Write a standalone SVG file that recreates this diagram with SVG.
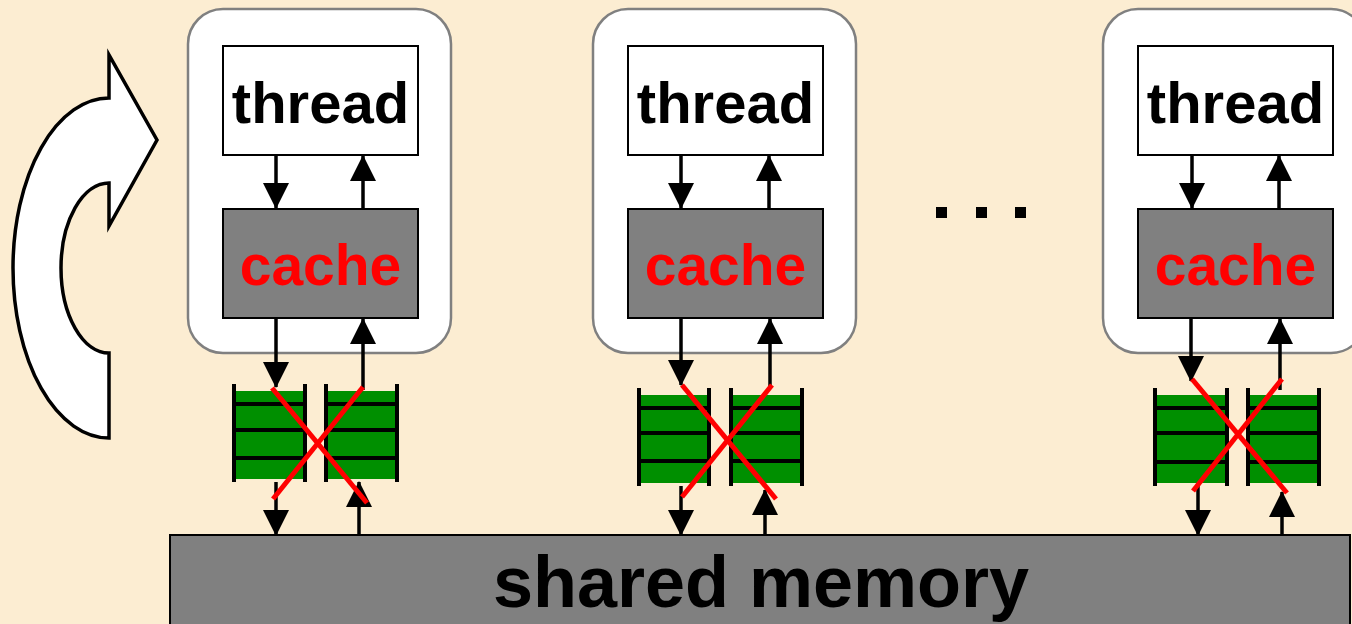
<svg xmlns="http://www.w3.org/2000/svg" width="1352" height="624" viewBox="0 0 1352 624">
<defs>
<style>
.bg{fill:#fcedd2}
.outer{fill:#ffffff;stroke:#808080;stroke-width:2.5}
.thread{fill:#ffffff;stroke:#000;stroke-width:2}
.cache{fill:#808080;stroke:#000;stroke-width:2}
.tt{font-family:"Liberation Sans",Arial,sans-serif;font-weight:bold;font-size:58px;fill:#000;text-anchor:middle}
.ct{font-family:"Liberation Sans",Arial,sans-serif;font-weight:bold;font-size:57px;fill:#ff0000;text-anchor:middle}
.mt{font-family:"Liberation Sans",Arial,sans-serif;font-weight:bold;font-size:72px;fill:#000;text-anchor:middle}
.conn line{stroke:#000;stroke-width:3.5;marker-end:url(#ah)}
.green{fill:#008f00}
.bar{stroke:#000;stroke-width:4}
.x{stroke:#ff0000;stroke-width:5}
.mem{fill:#808080;stroke:#000;stroke-width:2}
</style>
<marker id="ah" markerUnits="userSpaceOnUse" markerWidth="26" markerHeight="26" viewBox="0 0 26 26" refX="25" refY="13" orient="auto">
<path d="M0,0 L26,13 L0,26 Z" fill="#000"/>
</marker>
</defs>
<rect class="bg" x="0" y="0" width="1352" height="624"/>

<g id="loop-arrow">
<path d="M109,98 L109,55 L157,140 L109,226 L109,183 A48,85 0 0 0 109,353 L109,438 A96,170 0 0 1 109,98 Z" fill="#fff" stroke="#000" stroke-width="3.5" stroke-linejoin="miter"/>
</g>

<g id="core1">
<rect class="outer" x="188" y="9" width="263" height="344" rx="35"/>
<g id="thread1"><rect class="thread" x="223" y="46" width="195" height="109"/><text class="tt" x="320.5" y="123">thread</text></g>
<g id="cache1"><rect class="cache" x="223" y="209" width="195" height="109"/><text class="ct" x="320.5" y="285">cache</text></g>
</g>
<g id="core2">
<rect class="outer" x="593" y="9" width="263" height="344" rx="35"/>
<g id="thread2"><rect class="thread" x="628" y="46" width="195" height="109"/><text class="tt" x="725.5" y="123">thread</text></g>
<g id="cache2"><rect class="cache" x="628" y="209" width="195" height="109"/><text class="ct" x="725.5" y="285">cache</text></g>
</g>
<g id="core3">
<rect class="outer" x="1103" y="9" width="263" height="344" rx="35"/>
<g id="thread3"><rect class="thread" x="1138" y="46" width="195" height="109"/><text class="tt" x="1235.5" y="123">thread</text></g>
<g id="cache3"><rect class="cache" x="1138" y="209" width="195" height="109"/><text class="ct" x="1235.5" y="285">cache</text></g>
</g>

<g id="ellipsis">
<rect x="936" y="207" width="11" height="11" fill="#000"/>
<rect x="976" y="207" width="11" height="11" fill="#000"/>
<rect x="1015" y="207" width="11" height="11" fill="#000"/>
</g>

<g id="buffers1">
<rect class="green" x="234" y="391" width="71" height="88"/>
<rect class="green" x="326" y="391" width="71" height="88"/>
<g class="bar">
<line x1="234" y1="384" x2="234" y2="482"/><line x1="305" y1="384" x2="305" y2="482"/>
<line x1="326" y1="384" x2="326" y2="482"/><line x1="397" y1="384" x2="397" y2="482"/>
<line x1="234" y1="404" x2="305" y2="404"/><line x1="234" y1="430" x2="303" y2="430"/><line x1="234" y1="458" x2="305" y2="458"/>
<line x1="326" y1="404" x2="397" y2="404"/><line x1="326" y1="430" x2="397" y2="430"/><line x1="326" y1="458" x2="397" y2="458"/>
</g>
</g>
<g id="buffers2">
<rect class="green" x="639" y="395" width="70" height="88"/>
<rect class="green" x="731" y="395" width="71" height="88"/>
<g class="bar">
<line x1="639" y1="388" x2="639" y2="486"/><line x1="709" y1="388" x2="709" y2="486"/>
<line x1="731" y1="388" x2="731" y2="486"/><line x1="802" y1="388" x2="802" y2="486"/>
<line x1="639" y1="408" x2="709" y2="408"/><line x1="639" y1="433" x2="709" y2="433"/><line x1="639" y1="461" x2="709" y2="461"/>
<line x1="731" y1="408" x2="802" y2="408"/><line x1="731" y1="433" x2="802" y2="433"/><line x1="731" y1="461" x2="802" y2="461"/>
</g>
</g>
<g id="buffers3">
<rect class="green" x="1155" y="395" width="72" height="88"/>
<rect class="green" x="1248" y="395" width="71" height="88"/>
<g class="bar">
<line x1="1155" y1="388" x2="1155" y2="486"/><line x1="1227" y1="388" x2="1227" y2="486"/>
<line x1="1248" y1="388" x2="1248" y2="486"/><line x1="1319" y1="388" x2="1319" y2="486"/>
<line x1="1155" y1="408" x2="1227" y2="408"/><line x1="1155" y1="433" x2="1227" y2="433"/><line x1="1155" y1="462" x2="1227" y2="462"/>
<line x1="1248" y1="408" x2="1319" y2="408"/><line x1="1248" y1="433" x2="1319" y2="433"/><line x1="1248" y1="462" x2="1319" y2="462"/>
</g>
</g>

<g id="memory">
<rect class="mem" x="170" y="535" width="1180" height="100"/>
<text class="mt" x="761" y="607">shared memory</text>
</g>

<g id="connectors" class="conn">
<line x1="276" y1="155" x2="276" y2="208"/>
<line x1="363" y1="209" x2="363" y2="156"/>
<line x1="276" y1="318" x2="276" y2="387"/>
<line x1="363" y1="390" x2="363" y2="319"/>
<line x1="276" y1="482" x2="276" y2="535"/>
<line x1="359" y1="535" x2="359" y2="482"/>

<line x1="681" y1="155" x2="681" y2="208"/>
<line x1="769" y1="209" x2="769" y2="156"/>
<line x1="681" y1="318" x2="681" y2="385"/>
<line x1="770" y1="387" x2="770" y2="319"/>
<line x1="681" y1="486" x2="681" y2="535"/>
<line x1="765" y1="535" x2="765" y2="490"/>

<line x1="1192" y1="155" x2="1192" y2="208"/>
<line x1="1279" y1="209" x2="1279" y2="156"/>
<line x1="1191" y1="318" x2="1191" y2="381"/>
<line x1="1280" y1="390" x2="1280" y2="319"/>
<line x1="1198" y1="486" x2="1198" y2="535"/>
<line x1="1282" y1="535" x2="1282" y2="492"/>
</g>

<g id="crosses" class="x">
<line x1="272" y1="388" x2="367" y2="503"/><line x1="363" y1="387" x2="273" y2="499"/>
<line x1="682" y1="385" x2="776" y2="499"/><line x1="772" y1="385" x2="682" y2="497"/>
<line x1="1192" y1="379" x2="1287" y2="493"/><line x1="1282" y1="379" x2="1193" y2="491"/>
</g>
</svg>
